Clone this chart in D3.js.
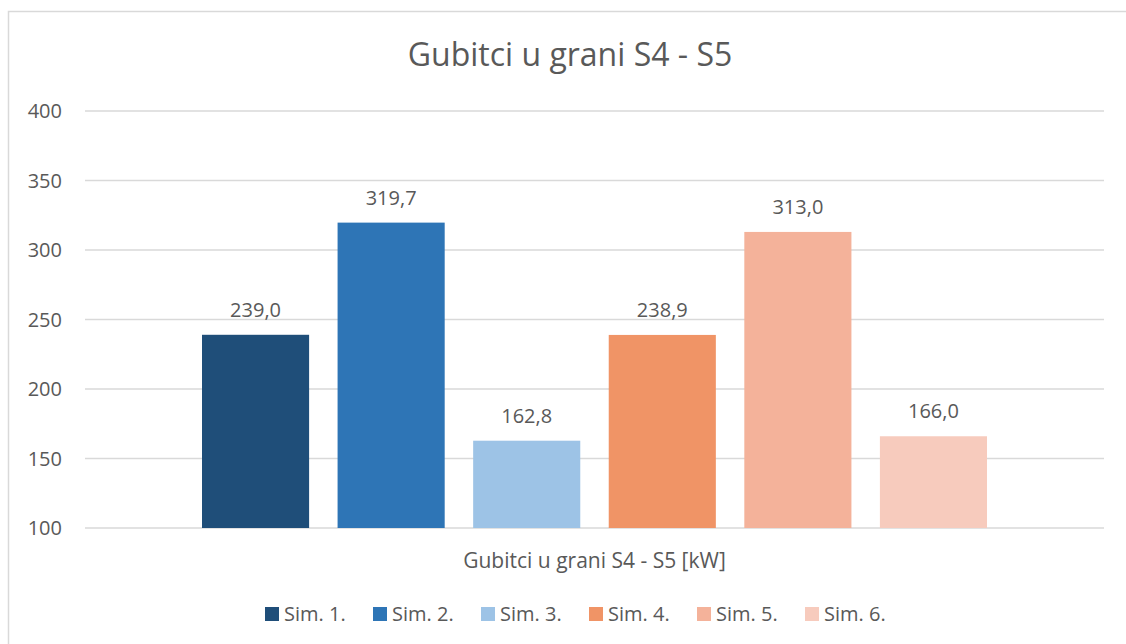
<!DOCTYPE html>
<html>
<head>
<meta charset="UTF-8">
<title>Gubitci u grani S4 - S5</title>
<script src="https://d3js.org/d3.v7.min.js"></script>
<style>
body { margin: 0; background: #fff; }
text { font-family: "Open Sans", sans-serif; fill: #595959; }
</style>
</head>
<body>
<svg id="chart" width="1126" height="644"></svg>
<script>
var series = ["Sim. 1.", "Sim. 2.", "Sim. 3.", "Sim. 4.", "Sim. 5.", "Sim. 6."];
var values = [239.0, 319.7, 162.8, 238.9, 313.0, 166.0];
var colors = ["#1f4e79", "#2e75b6", "#9dc3e6", "#f09466", "#f4b29a", "#f7cbbd"];
var yTicks = [100, 150, 200, 250, 300, 350, 400];
var category = "Gubitci u grani S4 - S5 [kW]";
var title = "Gubitci u grani S4 - S5";

var svg = d3.select("#chart");
var plotL = 85, plotR = 1104, plotT = 111, plotB = 528;

// chart border (runs off the right and bottom edge)
svg.append("rect").attr("x", 8.5).attr("y", 11.5).attr("width", 1130).attr("height", 650)
  .attr("fill", "none").attr("stroke", "#d9d9d9").attr("stroke-width", 1.5);

var y = d3.scaleLinear().domain([100, 400]).range([plotB, plotT]);
// inner band for the six bars inside the single category
var x = d3.scaleBand().domain(series).range([202, 987]).paddingInner(0.21).paddingOuter(0);

svg.append("g").selectAll("line").data(yTicks).enter().append("line")
  .attr("x1", plotL).attr("x2", plotR)
  .attr("y1", function(d){ return y(d); }).attr("y2", function(d){ return y(d); })
  .attr("stroke", "#d9d9d9").attr("stroke-width", 1.3);

svg.append("g").selectAll("text").data(yTicks).enter().append("text")
  .attr("x", 62).attr("y", function(d){ return y(d) + 7; })
  .attr("text-anchor", "end").attr("font-size", 20).text(function(d){ return d; });

svg.append("g").selectAll("rect").data(values).enter().append("rect")
  .attr("x", function(d, i){ return x(series[i]); })
  .attr("width", x.bandwidth())
  .attr("y", function(d){ return y(d); })
  .attr("height", function(d){ return y(100) - y(d); })
  .attr("fill", function(d, i){ return colors[i]; });

svg.append("g").selectAll("text").data(values).enter().append("text")
  .attr("x", function(d, i){ return x(series[i]) + x.bandwidth() / 2; })
  .attr("y", function(d){ return y(d) - 18; })
  .attr("text-anchor", "middle").attr("font-size", 20)
  .text(function(d){ return d3.format(".1f")(d).replace(".", ","); });

svg.append("text").attr("x", 570).attr("y", 66)
  .attr("text-anchor", "middle").attr("font-size", 32).text(title);

svg.append("text").attr("x", (plotL + plotR) / 2).attr("y", 568)
  .attr("text-anchor", "middle").attr("font-size", 21).text(category);

var lg = svg.append("g").selectAll("g").data(series).enter().append("g")
  .attr("transform", function(d, i){ return "translate(" + (265 + i * 108) + ",607)"; });
lg.append("rect").attr("width", 14).attr("height", 14)
  .attr("fill", function(d, i){ return colors[i]; });
lg.append("text").attr("x", 19).attr("y", 14).attr("font-size", 20).text(function(d){ return d; });
</script>
</body>
</html>
